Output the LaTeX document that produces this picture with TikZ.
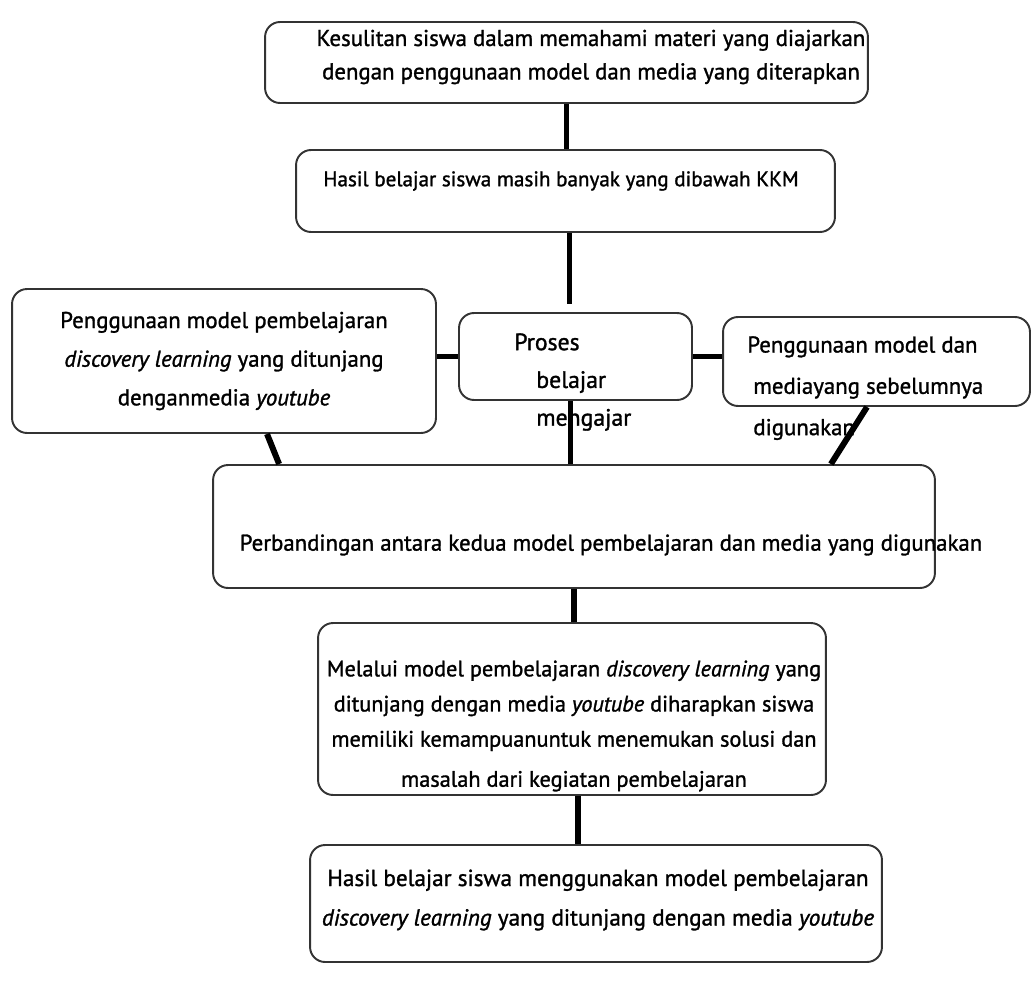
\documentclass[tikz,border=0pt]{standalone}
\usepackage{fontspec}
\setmainfont{PT Sans}[UprightFeatures={FakeBold=1.3}, ItalicFeatures={FakeBold=1.3}]
\usetikzlibrary{calc}

\tikzset{
  kotak/.style={draw=black!80, line width=1.1pt, rounded corners=0.3cm, inner sep=0pt},
  teks/.style={inner sep=0pt, align=center, font=\fontsize{13}{19}\selectfont},
  garis/.style={line width=3.4pt}
}

\begin{document}
\begin{tikzpicture}[x=0.02cm, y=-0.02cm]
  \useasboundingbox (0,0) rectangle (1033,987);

  % kotak-kotak
  \node[kotak, minimum width=12.06cm, minimum height=1.62cm] (kesulitan) at (566.5,62.5) {};
  \node[kotak, minimum width=10.78cm, minimum height=1.64cm] (hasil) at (565.5,191) {};
  \node[kotak, minimum width=4.66cm, minimum height=1.74cm] (proses) at (575.5,356.5) {};
  \node[kotak, minimum width=8.48cm, minimum height=2.88cm] (kiri) at (224,361) {};
  \node[kotak, minimum width=6.14cm, minimum height=1.78cm] (kanan) at (876.5,361.5) {};
  \node[kotak, minimum width=14.44cm, minimum height=2.46cm] (banding) at (574,526.5) {};
  \node[kotak, minimum width=10.16cm, minimum height=3.44cm] (melalui) at (572,709) {};
  \node[kotak, minimum width=11.44cm, minimum height=2.34cm] (akhir) at (596,903.5) {};

  % teks
  \node[teks] (tkesulitan) at (591,57)
    {Kesulitan siswa dalam memahami materi yang diajarkan\\
     dengan penggunaan model dan media yang diterapkan};
  \node[teks, font=\fontsize{12}{19}\selectfont] (thasil) at (561,181)
    {Hasil belajar siswa masih banyak yang dibawah KKM};
  \node[teks, font=\fontsize{13}{22}\selectfont] (tkiri) at (224,361)
    {Penggunaan model pembelajaran\\
     \textit{discovery learning} yang ditunjang\\
     denganmedia \textit{youtube}};
  \node[teks, align=left, anchor=north west, font=\fontsize{13.5}{21.5}\selectfont] (tproses) at (514,333)
    {Proses\\
     \hspace*{0.44cm}belajar\\
     \hspace*{0.44cm}mengajar};
  \node[teks, align=left, anchor=north west, font=\fontsize{13}{23.5}\selectfont] (tkanan) at (747,336)
    {Penggunaan model dan\\
     \hspace*{0.12cm}mediayang sebelumnya\\
     \hspace*{0.12cm}digunakan};
  \node[teks] (tbanding) at (611,545)
    {Perbandingan antara kedua model pembelajaran dan media yang digunakan};
  \node[teks, font=\fontsize{12.7}{20}\selectfont] (tmelalui) at (574,726)
    {Melalui model pembelajaran \textit{discovery learning} yang\\
     ditunjang dengan media \textit{youtube} diharapkan siswa\\
     memiliki kemampuanuntuk menemukan solusi dan\\[0.1cm]
     masalah dari kegiatan pembelajaran};
  \node[teks, font=\fontsize{13.2}{22.5}\selectfont] (takhir) at (598,900)
    {Hasil belajar siswa menggunakan model pembelajaran\\
     \textit{discovery learning} yang ditunjang dengan media \textit{youtube}};

  % penghubung
  \path ($(proses.south)+(-5,0)$) coordinate (pb)
        ($(hasil.south)+(4,0)$) coordinate (hb)
        ($(melalui.south)+(6,0)$) coordinate (ma);
  \draw[garis] (kesulitan.south) -- (kesulitan.south |- hasil.north);
  \draw[garis] (hb) -- ($(hb |- proses.north)+(0,-8)$);
  \draw[garis] (pb) -- (pb |- banding.north);
  \draw[garis] (proses.west) -- (proses.west -| kiri.east);
  \draw[garis] (proses.east) -- (proses.east -| kanan.west);
  \draw[garis] ($(kiri.south)+(43,0)$) -- ($(banding.north west)+(67,0)$);
  \draw[garis] ($(kanan.south)+(-9.5,0)$) -- ($(banding.north east)+(-105,0)$);
  \draw[garis] (banding.south) -- (banding.south |- melalui.north);
  \draw[garis] (ma) -- (ma |- akhir.north);
\end{tikzpicture}
\end{document}
